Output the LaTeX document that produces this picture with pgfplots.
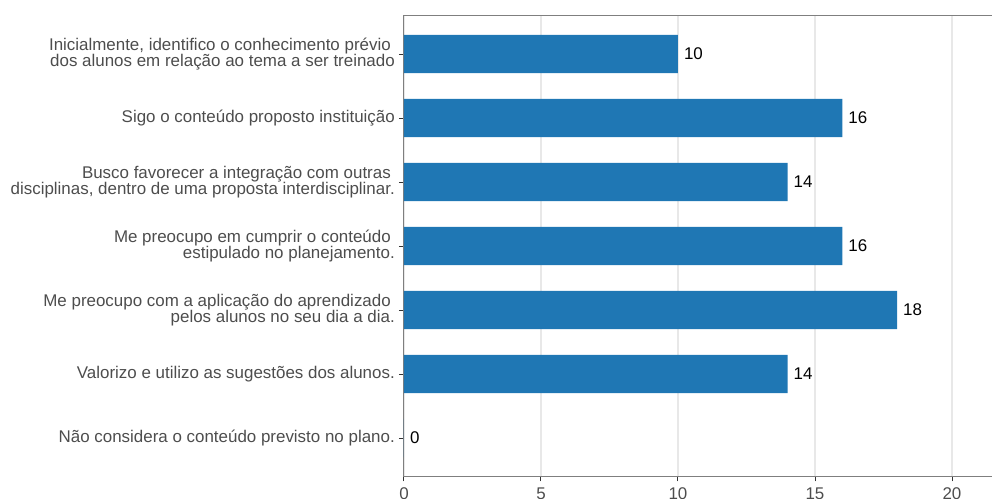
\documentclass[border=0pt]{standalone}
\usepackage{fontspec}
\setmainfont{Liberation Sans}
\usepackage{pgfplots}
\pgfplotsset{compat=1.18}
\definecolor{barblue}{HTML}{1F77B4}
\definecolor{labgray}{HTML}{4D4D4D}
\definecolor{spine}{HTML}{7F7F7F}
\definecolor{gridc}{HTML}{E8E8E8}
\definecolor{tickc}{HTML}{333333}

\begin{document}
\begin{tikzpicture}
    \useasboundingbox (-404bp,-22.6bp) rectangle (588bp,476.4bp);
    \begin{axis}[
        at={(0bp,0bp)}, anchor=south west,
        scale only axis,
        width=602.8bp, height=460.8bp,
        xmin=0, xmax=22,
        ymin=0.4, ymax=7.6, y dir=reverse,
        xbar, bar width=38.4bp,
        ytick={1,...,7},
        yticklabels={
            {Inicialmente, identifico o conhecimento prévio\hspace*{4bp}\\dos alunos em relação ao tema a ser treinado},
            {Sigo o conteúdo proposto instituição},
            {Busco favorecer a integração com outras\hspace*{4bp}\\disciplinas, dentro de uma proposta interdisciplinar.},
            {Me preocupo em cumprir o conteúdo\hspace*{4bp}\\estipulado no planejamento.},
            {Me preocupo com a aplicação do aprendizado\hspace*{4bp}\\pelos alunos no seu dia a dia.},
            {Valorizo e utilizo as sugestões dos alunos.},
            {Não considera o conteúdo previsto no plano.}},
        xtick={0,5,10,15,20},
        xmajorgrids,
        major grid style={gridc, line width=1.1bp},
        axis line style={spine, line width=1bp},
        tick style={tickc, line width=1bp},
        tick align=outside, major tick length=5bp,
        xtick pos=bottom, ytick pos=left,
        /pgf/number format/assume math mode=true,
        tick label style={font=\fontsize{17}{16}\selectfont, text=labgray},
        yticklabel style={align=right, inner sep=0pt, xshift=-4bp},
        xticklabel style={yshift=-3bp},
        nodes near coords,
        point meta=x,
        nodes near coords style={font=\fontsize{17}{16}\selectfont, text=black, anchor=west, xshift=2.5bp},
    ]
    \addplot[fill=barblue, draw=none] coordinates {
        (10,1) (16,2) (14,3) (16,4) (18,5) (14,6) (0,7)
    };
    \end{axis}
\end{tikzpicture}
\end{document}
